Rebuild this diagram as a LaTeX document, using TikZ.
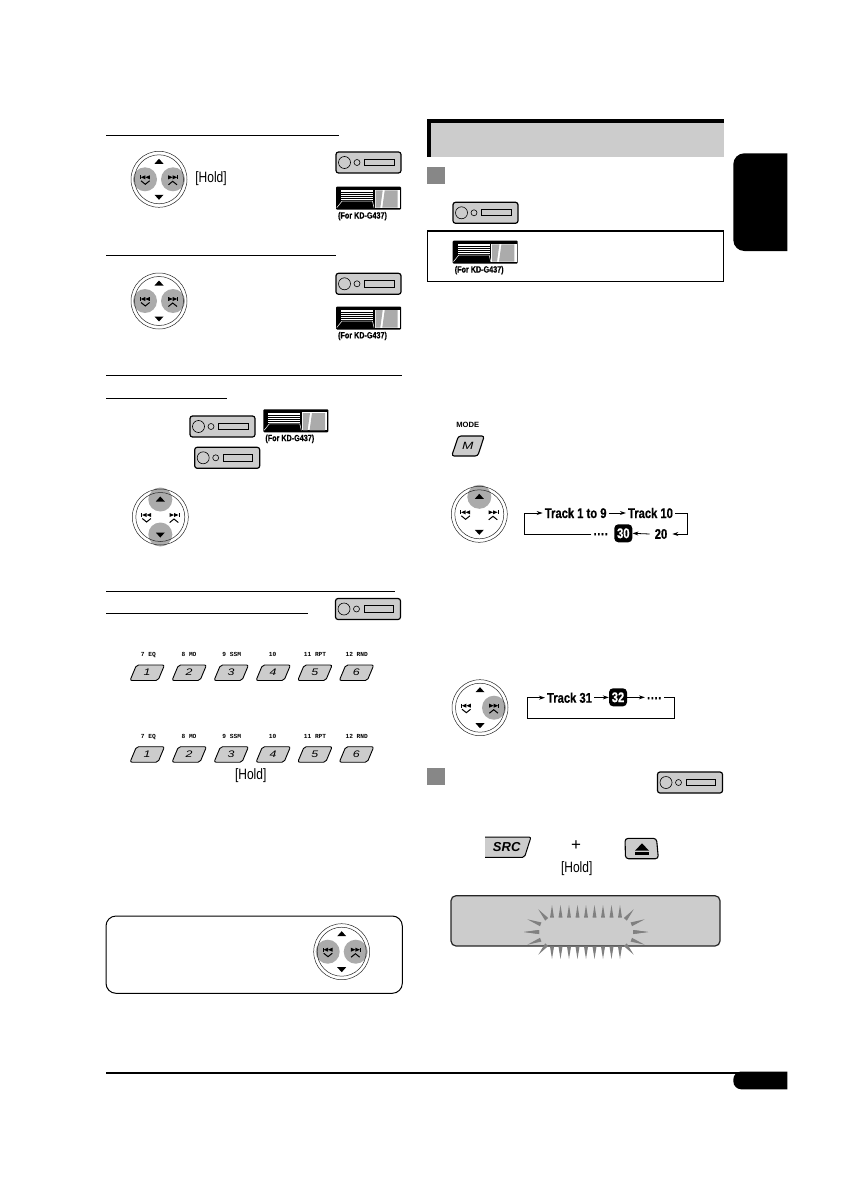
\documentclass[tikz,border=0pt]{standalone}
\usepackage{fontspec}
\setmainfont{Liberation Sans}
\newfontfamily\condfont[FakeStretch=0.8]{Liberation Sans}
\newfontfamily\heavyfont[FakeStretch=0.8,FakeBold=0.6]{Liberation Sans Bold}
\newfontfamily\widefont[FakeStretch=1.3]{Liberation Sans}
\newfontfamily\keyfont{Liberation Mono}
\usetikzlibrary{arrows.meta,calc}
\definecolor{panelgray}{gray}{0.8}
\definecolor{btngray}{gray}{0.67}
\definecolor{markgray}{gray}{0.53}
\definecolor{spikegray}{gray}{0.5}
\tikzset{
  rule/.style={line width=1pt},
  unitbody/.style={draw=black, fill=panelgray, line width=1.2pt, rounded corners=2.5pt},
  unitpart/.style={draw=black, line width=.6pt},
  ring/.style={draw=black!85, line width=.5pt},
  keybody/.style={draw=black, fill=panelgray, line width=.9pt, rounded corners=2pt},
  marker/.style={fill=markgray},
  spike/.style={fill=spikegray},
  flowline/.style={line width=.8pt},
  flowarrow/.style={flowline, -{Stealth[length=6pt,width=4pt]}},
  tracktext/.style={inner sep=2pt, font=\fontsize{14}{14}\selectfont\heavyfont},
  numbox/.style={fill=black, text=white, rounded corners=4pt, minimum size=18pt, inner sep=0pt, font=\fontsize{14}{14}\selectfont\heavyfont},
  holdtext/.style={inner sep=0pt, font=\fontsize{15}{15}\selectfont\condfont},
  fortext/.style={inner sep=0pt, font=\fontsize{9}{9}\selectfont\heavyfont},
}
% up/down/left/right buttons, #2 = the lit ones
\newcommand{\dial}[2]{
  \begin{scope}[shift={(#1)}]
    \coordinate (du) at (0,-17.5); \coordinate (dd) at (0,17.5);
    \coordinate (dl) at (-14,0); \coordinate (dr) at (14,0);
    \foreach \p in {#2} \fill[btngray] (\p) circle (12);
    \draw[ring] (0,0) circle (28); \draw[ring] (0,0) circle (24.5);
    \fill (-4.5,-15.5) -- (4.5,-15.5) -- (0,-20.5) -- cycle;
    \fill (-4.5,15.5) -- (4.5,15.5) -- (0,20.5) -- cycle;
    \fill (-19,-4) rectangle (-18.2,0);
    \fill (-18.2,-2) -- (-13.7,-4) -- (-13.7,0) -- cycle;
    \fill (-13.7,-2) -- (-9.2,-4) -- (-9.2,0) -- cycle;
    \fill (19,-4) rectangle (18.2,0);
    \fill (18.2,-2) -- (13.7,-4) -- (13.7,0) -- cycle;
    \fill (13.7,-2) -- (9.2,-4) -- (9.2,0) -- cycle;
    \draw[line width=1pt] (-18,1.5) -- (-13.7,5) -- (-9.4,1.5);
    \draw[line width=1pt] (18,5.5) -- (13.7,2) -- (9.4,5.5);
  \end{scope}
}
\newcommand{\carunit}[1]{
  \begin{scope}[shift={(#1)}]
    \draw[unitbody] (0,0) rectangle (65,21);
    \draw[unitpart] (8.5,10.5) circle (6); \draw[unitpart] (21,10.5) circle (3);
    \draw[unitpart] (28.5,7) rectangle (58,13.5);
  \end{scope}
}
% #1 = name of the label node
\newcommand{\flipunit}[2]{
  \begin{scope}[shift={(#2)}]
    \fill[rounded corners=1pt] (0,0) rectangle (65,23);
    \fill[white] (38.5,3) rectangle (64,21);
    \fill[btngray] (39.5,3.7) -- (46.7,3.7) -- (44.3,21) -- (39.5,21) -- cycle;
    \fill[btngray] (48.7,3.7) -- (61.7,3.7) -- (61.7,21) -- (46.3,21) -- cycle;
    \fill[white] (5,3.7) rectangle (37,13.5);
    \foreach \y in {5.5,7.5,9.5,11.5} \draw[line width=.5pt] (5,\y) -- (37,\y);
    \draw[white, line width=.5pt] (.8,21) -- (6,14.5) -- (36.5,14.5) -- (38,21);
    \node[fortext] (#1) at (26.5,29.5) {(For KD-G437)};
  \end{scope}
}
\newcommand{\keyrow}[2]{
  \foreach \x/\n/\t/\c in {130/1/7 EQ/148.3, 172/2/8 MO/189, 214/3/9 SSM/231.7, 256/4/10/272.7, 297.7/5/11 RPT/315, 339.3/6/12 RND/356.7} {
    \draw[keybody] (\x+6.5,#2) -- (\x+34.5,#2) -- (\x+28,#2+15.5) -- (\x,#2+15.5) -- cycle;
    \node[inner sep=0pt, font=\fontsize{9.5}{9.5}\selectfont\widefont\itshape] (key#1\n) at (\x+17,#2+7.6) {\n};
    \node[inner sep=0pt, text height=4.3pt, text depth=0pt, font=\fontsize{6.2}{6.2}\selectfont\keyfont\bfseries] (lab#1\n) at (\c,#2-10.3) {\t};
  }
}
\begin{document}
\begin{tikzpicture}[x=1pt, y=-1pt]
  \useasboundingbox (0,0) rectangle (840,1190);

  % left column
  \draw[rule] (106,135.3) -- (339,135.3);
  \dial{159,179.3}{dl,dr}
  \node[holdtext] (hold1) at (211,179) {[Hold]};
  \carunit{336,152}
  \flipunit{for1}{336,186.7}

  \draw[rule] (106,255.7) -- (336,255.7);
  \dial{159,301}{dl,dr}
  \carunit{336,273.3}
  \flipunit{for2}{336,306.5}

  \draw[rule] (106,375.3) -- (402,375.3);
  \draw[rule] (106,398.3) -- (227,398.3);
  \carunit{190,416}
  \flipunit{for3}{263.3,409.3}
  \carunit{194.7,447.3}
  \dial{160.3,517}{du,dd}

  \draw[rule] (106,591.3) -- (395,591.3);
  \draw[rule] (106,613.3) -- (308,613.3);
  \carunit{335.5,598.5}
  \keyrow{a}{665}
  \keyrow{b}{746.7}
  \node[holdtext] (hold2) at (250.7,776) {[Hold]};

  \draw[line width=1pt, rounded corners=10pt] (106,916) rectangle (402.3,993.3);
  \dial{341.7,951.7}{dl,dr}

  % right column
  \fill (427,119) rectangle (724,157);
  \fill[panelgray] (431,123) rectangle (724,157);
  \fill[marker] (427,167) rectangle (445,184);
  \carunit{453,202.3}
  \draw[line width=1.2pt] (427.3,230.7) rectangle (723.7,281.3);
  \draw[line width=2pt] (427.3,231.3) -- (723.7,231.3);
  \flipunit{for4}{452.7,240.7}

  \node[inner sep=0pt, font=\fontsize{7.6}{7.6}\selectfont\bfseries] (modelab) at (467.7,424.7) {MODE};
  \draw[keybody, line width=1.1pt, rounded corners=2.5pt] (458.5,436) -- (484.3,436) -- (477.7,456) -- (451.7,456) -- cycle;
  \node[inner sep=0pt, font=\fontsize{10.5}{10.5}\selectfont\widefont\itshape] (modekey) at (467.9,446.3) {M};

  \dial{479.3,514.3}{du}
  \node[tracktext] (track1) at (575.7,513) {Track 1 to 9};
  \node[tracktext] (track10) at (650.5,513) {Track 10};
  \node[tracktext, inner sep=5pt] (twenty) at (661,534) {20};
  \node[numbox] (num30) at (623.3,533.3) {30};
  \node[tracktext] (dotsa) at (601,536) {····};
  \coordinate (loopa) at (524.3,534); \coordinate (loopb) at (687.7,534);
  \draw[flowarrow] (track1) -- (track10);
  \draw[flowarrow] (track10.east) -| (loopb) -- (twenty.east);
  \draw[flowarrow] (twenty.west) -- (num30.east);
  \draw[flowarrow] (dotsa.west |- loopa) -- (loopa) |- (track1.west);

  \dial{480,707.7}{dr}
  \node[tracktext] (track31) at (569.5,697.7) {Track 31};
  \node[numbox] (num32) at (618,697.3) {32};
  \node[tracktext] (dotsb) at (654.5,700) {····};
  \coordinate (loopc) at (527.3,718.3); \coordinate (loopd) at (674.3,718.3);
  \draw[flowarrow] (track31) -- (num32);
  \draw[flowarrow] (num32.east) -- (dotsb.west |- num32);
  \draw[flowarrow] (dotsb.east |- num32) -| (loopd) -- (loopc) |- (track31.west);

  \fill[marker] (427,768) rectangle (445,785);
  \carunit{657.5,772}

  % SRC + eject
  \fill[panelgray] (485,837) -- (530.5,837) -- (525,857.3) -- (485,857.3) -- cycle;
  \draw[line width=1pt, rounded corners=2pt] (485,837) -- (531,837) -- (524.5,857.3) -- (485,857.3);
  \node[inner sep=0pt, font=\fontsize{13}{13}\selectfont\bfseries\itshape] (srckey) at (506.7,846.9) {SRC};
  \node[inner sep=0pt, font=\fontsize{17}{17}\selectfont] (plus) at (576,845.5) {+};
  \node[holdtext] (hold3) at (576.7,869) {[Hold]};
  \draw[keybody, line width=1.1pt, rounded corners=3pt] (625,838.4) -- (656.5,838.4) -- (658.4,858.7) -- (625.5,858.7) -- cycle;
  \fill (635,850.7) -- (649,850.7) -- (642,843.3) -- cycle;
  \fill (635,852.3) rectangle (649,854.7);

  % display
  \draw[fill=panelgray, draw=black!85, line width=1.2pt, rounded corners=5pt] (451,895.7) rectangle (720,946);
  \foreach \i in {0,...,8} {
    \fill[spike] (552+8.5*\i-2,917.7) -- (552+8.5*\i,905) -- (552+8.5*\i+2,917.7) -- cycle;
    \fill[spike] (552+8.5*\i-2,946.7) -- (552+8.5*\i,959) -- (552+8.5*\i+2,946.7) -- cycle;
  }
  \foreach \sx in {1,-1} \foreach \sy in {1,-1}
    \foreach \tx/\ty/\bx/\by in {47.7/22.7/39.3/12.7, 58.7/12.7/45.3/7.7, 62/0/47/0} {
      \coordinate (tip) at (586+\sx*\tx,932+\sy*\ty);
      \coordinate (base) at (586+\sx*\bx,932+\sy*\by);
      \fill[spike] (tip) -- ($(base)!2pt!90:(tip)$) -- ($(base)!2pt!-90:(tip)$) -- cycle;
    }

  % tab and page foot
  \fill[rounded corners=11pt] (787.3,153.3) -- (733.3,153.3) -- (733.3,251) -- (787.3,251);
  \draw[line width=1.8pt] (106,1073) -- (787.3,1073);
  \fill[rounded corners=8pt] (787.3,1071.5) -- (733.3,1071.5) -- (733.3,1089.3) -- (787.3,1089.3);
\end{tikzpicture}
\end{document}
